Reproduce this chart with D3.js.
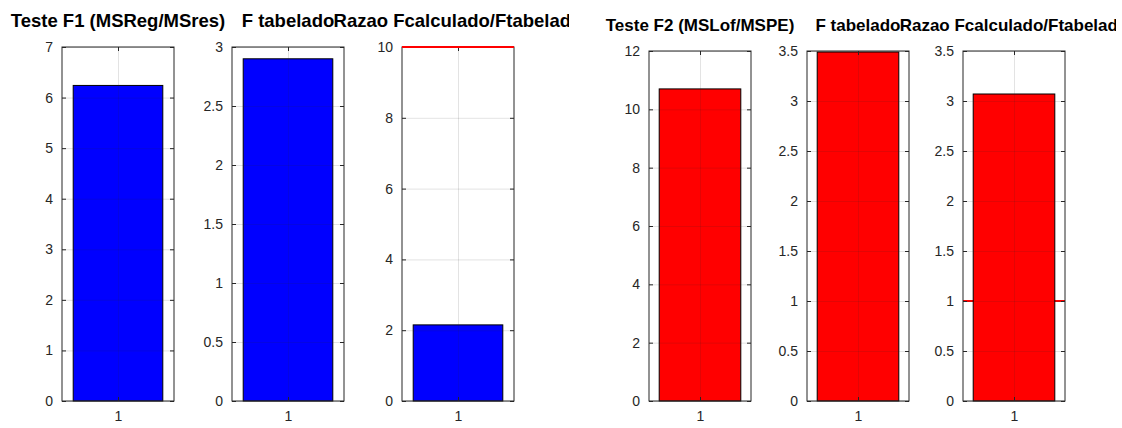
<!DOCTYPE html>
<html>
<head>
<meta charset="utf-8">
<script src="https://cdn.jsdelivr.net/npm/d3@7"></script>
<style>
  body { margin: 0; background: #fff; }
  svg { display: block; font-family: "Liberation Sans", Arial, sans-serif; }
</style>
</head>
<body>
<div id="chart"></div>
<script>
// chart data
var titles = ["Teste F1 (MSReg/MSres)", "F tabelado", "Razao Fcalculado/Ftabelado",
              "Teste F2 (MSLof/MSPE)", "F tabelado", "Razao Fcalculado/Ftabelado"];
var categories = [1];
var values = [6.24, 2.90, 2.15, 10.70, 3.49, 3.07];
var yMax = [7, 3, 10, 12, 3.5, 3.5];
var yStep = [1, 0.5, 2, 2, 0.5, 0.5];
var refLines = [null, null, 10, null, null, 1];
var barColors = ["#0000ff", "#0000ff", "#0000ff", "#ff0000", "#ff0000", "#ff0000"];

// layout of the six axes (two figures side by side)
var svgWidth = 1122, svgHeight = 428;
var panels = [
  {x: 62,  w: 112, top: 47, bottom: 401, half: 0},
  {x: 232, w: 112, top: 47, bottom: 401, half: 0},
  {x: 402, w: 112, top: 47, bottom: 401, half: 0},
  {x: 649, w: 102, top: 51, bottom: 401, half: 1},
  {x: 807, w: 102, top: 51, bottom: 401, half: 1},
  {x: 963, w: 102, top: 51, bottom: 401, half: 1}
];
var halfClip = [[0, 569], [569, 1116]];
var titleSize = ["18.5px", "17px"];

var svg = d3.select("#chart")
  .append("svg")
  .attr("width", svgWidth)
  .attr("height", svgHeight);

var defs = svg.append("defs");
halfClip.forEach(function(c, i) {
  defs.append("clipPath").attr("id", "half" + i)
    .append("rect").attr("x", c[0]).attr("y", 0)
    .attr("width", c[1] - c[0]).attr("height", svgHeight);
});

var axisColor = "#262626";

panels.forEach(function(p, i) {
  var h = p.bottom - p.top;
  var g = svg.append("g")
    .attr("transform", `translate(${p.x}, ${p.top})`);

  var xScale = d3.scaleLinear().domain([0.5, 1.5]).range([0, p.w]);
  var yScale = d3.scaleLinear().domain([0, yMax[i]]).range([h, 0]);
  var yTicks = d3.range(0, yMax[i] + yStep[i] / 2, yStep[i]);

  // reference line under the bar
  if (refLines[i] !== null && refLines[i] < yMax[i]) {
    g.append("line")
      .attr("x1", 0).attr("x2", p.w)
      .attr("y1", yScale(refLines[i])).attr("y2", yScale(refLines[i]))
      .attr("stroke", "#ff0000").attr("stroke-width", 2);
  }

  // bars
  g.selectAll(null)
    .data(categories)
    .enter()
    .append("rect")
    .attr("x", d => xScale(d - 0.4))
    .attr("width", xScale(1.4) - xScale(0.6))
    .attr("y", yScale(values[i]))
    .attr("height", h - yScale(values[i]))
    .attr("fill", barColors[i])
    .attr("stroke", "#000")
    .attr("stroke-width", 1);

  // grid on top of bars
  var gy = g.append("g")
    .call(d3.axisLeft(yScale).tickValues(yTicks).tickSize(-p.w).tickFormat(""));
  var gx = g.append("g")
    .attr("transform", `translate(0, ${h})`)
    .call(d3.axisBottom(xScale).tickValues(categories).tickSize(-h).tickFormat(""));
  [gy, gx].forEach(function(a) {
    a.select(".domain").remove();
    a.selectAll("line").attr("stroke", axisColor).attr("stroke-opacity", 0.13);
  });

  // box
  g.append("rect")
    .attr("x", 0).attr("y", 0).attr("width", p.w).attr("height", h)
    .attr("fill", "none").attr("stroke", axisColor).attr("stroke-width", 1);

  // axes with inward ticks
  var yAxis = g.append("g")
    .call(d3.axisLeft(yScale).tickValues(yTicks).tickSizeInner(-4).tickSizeOuter(0)
      .tickPadding(9).tickFormat(d3.format("~g")));
  var yAxisR = g.append("g")
    .attr("transform", `translate(${p.w}, 0)`)
    .call(d3.axisRight(yScale).tickValues(yTicks).tickSizeInner(-4).tickSizeOuter(0).tickFormat(""));
  var xAxis = g.append("g")
    .attr("transform", `translate(0, ${h})`)
    .call(d3.axisBottom(xScale).tickValues(categories).tickSizeInner(-4).tickSizeOuter(0)
      .tickPadding(10).tickFormat(d3.format("d")));
  var xAxisT = g.append("g")
    .call(d3.axisTop(xScale).tickValues(categories).tickSizeInner(-4).tickSizeOuter(0).tickFormat(""));
  [yAxis, yAxisR, xAxis, xAxisT].forEach(function(a) {
    a.select(".domain").remove();
    a.selectAll("line").attr("stroke", axisColor);
    a.selectAll("text").attr("fill", axisColor).attr("font-size", "14px")
      .attr("font-family", "Liberation Sans, Arial, sans-serif");
  });

  // reference line at the top edge drawn over the box
  if (refLines[i] !== null && refLines[i] >= yMax[i]) {
    g.append("line")
      .attr("x1", 0).attr("x2", p.w)
      .attr("y1", yScale(refLines[i])).attr("y2", yScale(refLines[i]))
      .attr("stroke", "#ff0000").attr("stroke-width", 2);
  }

  // title, clipped to its own figure half
  svg.append("g")
    .attr("clip-path", `url(#half${p.half})`)
    .append("text")
    .attr("x", p.x + p.w / 2)
    .attr("y", p.top - 20)
    .attr("text-anchor", "middle")
    .attr("font-size", titleSize[p.half])
    .attr("font-weight", "bold")
    .attr("fill", "#000")
    .text(titles[i]);
});
</script>
</body>
</html>
